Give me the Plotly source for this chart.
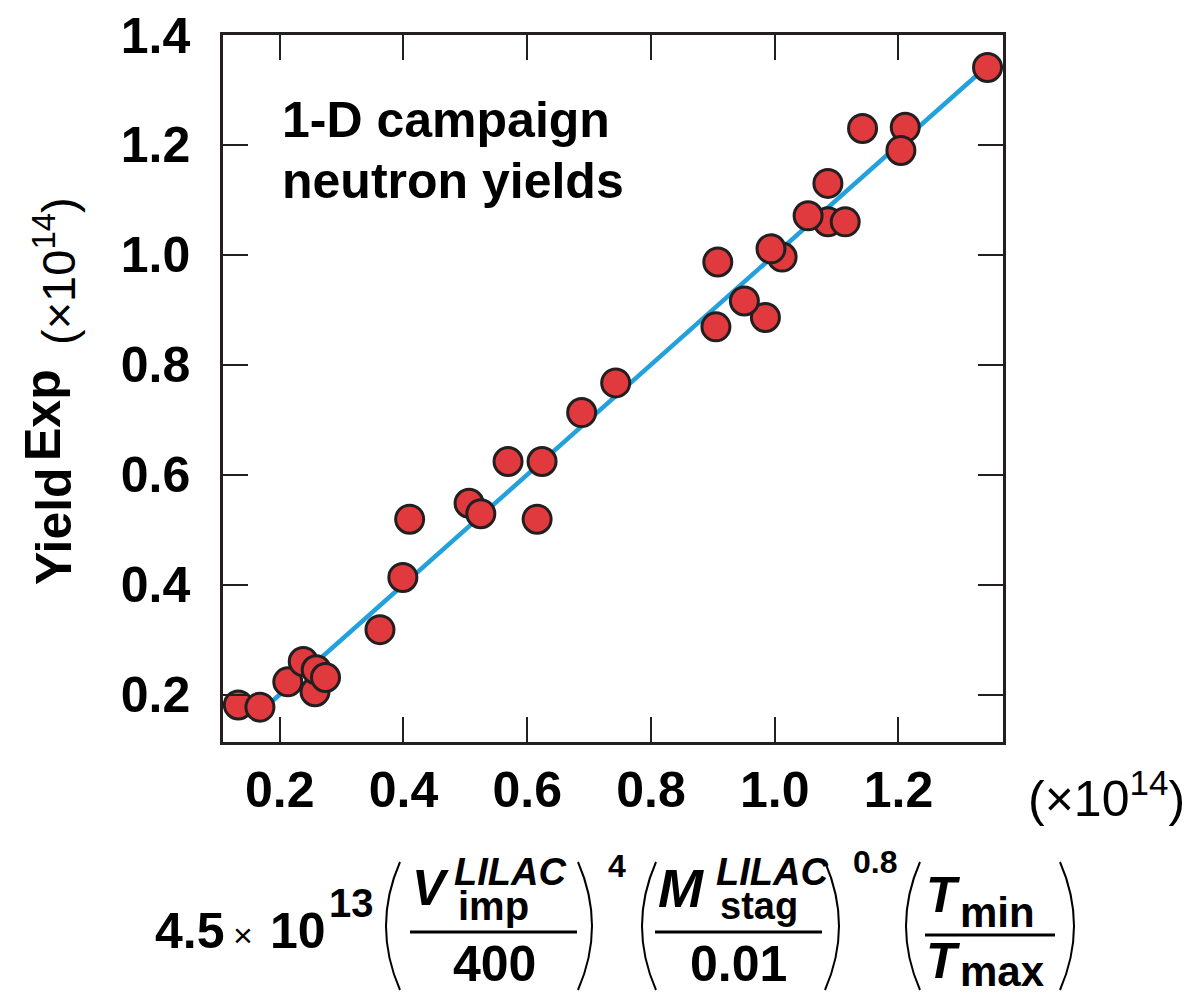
import plotly.graph_objects as go

# Measured neutron yields (units of 1e14) versus the 1-D scaling prediction
pred_yield = [0.133, 0.168, 0.213, 0.257, 0.238, 0.259, 0.274, 0.362, 0.399, 0.410,
              0.506, 0.525, 0.569, 0.616, 0.624, 0.688, 0.743, 0.908, 0.905, 0.985,
              0.951, 1.012, 0.994, 1.086, 1.054, 1.114, 1.086, 1.142, 1.211, 1.204,
              1.344]
exp_yield = [0.181, 0.177, 0.223, 0.205, 0.260, 0.245, 0.231, 0.318, 0.413, 0.519,
             0.548, 0.529, 0.624, 0.519, 0.624, 0.713, 0.767, 0.987, 0.869, 0.886,
             0.916, 0.996, 1.011, 1.060, 1.071, 1.060, 1.130, 1.230, 1.232, 1.190,
             1.341]

# Unity fit line
fit_x = [0.17, 1.344]
fit_y = [0.17, 1.344]

x_ticks = [0.2, 0.4, 0.6, 0.8, 1.0, 1.2]
y_ticks = [0.2, 0.4, 0.6, 0.8, 1.0, 1.2, 1.4]

FONT = "Liberation Sans, Arial, Helvetica, sans-serif"
INK = "#231f20"

W, H = 1196, 996
L, R, T, B = 223, 1003, 35, 742


def fx(px):
    return (px - L) / (R - L)


def fy(py):
    return (B - py) / (B - T)


fig = go.Figure()
fig.add_trace(go.Scatter(x=fit_x, y=fit_y, mode="lines",
                         line=dict(color="#22a1dc", width=4.5),
                         hoverinfo="skip", showlegend=False))
fig.add_trace(go.Scatter(x=pred_yield, y=exp_yield, mode="markers",
                         marker=dict(size=28, color="#e0393e",
                                     line=dict(color=INK, width=3)),
                         showlegend=False))

axis_common = dict(showline=True, linecolor=INK, linewidth=2.5, mirror="ticks",
                   ticks="inside", ticklen=25, tickwidth=2, tickcolor=INK,
                   showgrid=False, zeroline=False, automargin=False,
                   tickfont=dict(family=FONT, size=50, color="black", weight="bold"))

fig.update_xaxes(range=[0.1083, 1.369], tickvals=x_ticks,
                 ticktext=[f"{v:.1f}" for v in x_ticks],
                 ticklabelstandoff=2, **axis_common)
fig.update_yaxes(range=[0.1136, 1.4], tickvals=y_ticks,
                 ticktext=[f"{v:.1f}" for v in y_ticks],
                 ticklabelstandoff=20, **axis_common)

ann = []
shapes = []


def text(s, px, py, size, xanchor="left", yanchor="middle", angle=0):
    ann.append(dict(text=s, x=fx(px), y=fy(py), xref="paper", yref="paper",
                    xanchor=xanchor, yanchor=yanchor, showarrow=False,
                    textangle=angle,
                    font=dict(family=FONT, size=size, color="black")))


def paren(x_end, x_mid, y_top, y_bot):
    ctrl = 2 * x_mid - x_end
    path = (f"M {fx(x_end)},{fy(y_top)} Q {fx(ctrl)},{fy((y_top + y_bot) / 2)} "
            f"{fx(x_end)},{fy(y_bot)}")
    shapes.append(dict(type="path", path=path, xref="paper", yref="paper",
                       line=dict(color="black", width=2)))


def bar(x0, x1, y):
    shapes.append(dict(type="line", x0=fx(x0), x1=fx(x1), y0=fy(y), y1=fy(y),
                       xref="paper", yref="paper",
                       line=dict(color="black", width=3)))


# Panel label
text("<b>1-D campaign</b>", 280, 120, 50)
text("<b>neutron yields</b>", 280, 181, 50)

# Y-axis title (rotated, "Exp" sits slightly raised)
text("<b>Yield</b>", 54, 526, 50, xanchor="center", angle=-90)
text("<b>Exp</b>", 43, 415, 50, xanchor="center", angle=-90)
text("(×10<sup>14</sup>)", 55, 271, 47, xanchor="center", angle=-90)

# X-axis multiplier
text("(×10<sup>14</sup>)", 1106, 795, 50, xanchor="center")

# X-axis scaling expression
text("<b>4.5</b>", 153, 931, 50)
text("×", 243, 935, 34, xanchor="center")
text("<b>10</b>", 268, 931, 50)
text("<b>13</b>", 327, 903, 40)

paren(400, 386, 862, 990)
text("<b><i>V</i></b>", 410, 888, 50)
text("<b><i>LILAC</i></b>", 452, 872, 38)
text("<b>imp</b>", 456, 906, 40)
bar(410, 577, 932)
text("<b>400</b>", 494, 964, 50, xanchor="center")
paren(578, 592, 862, 990)
text("<b>4</b>", 606, 866, 32)

paren(656, 642, 862, 990)
text("<b><i>M</i></b>", 656, 888, 54)
text("<b><i>LILAC</i></b>", 714, 872, 38)
text("<b>stag</b>", 718, 906, 38)
bar(655, 822, 932)
text("<b>0.01</b>", 738, 964, 50, xanchor="center")
paren(825, 839, 862, 990)
text("<b>0.8</b>", 851, 862, 32)

paren(920, 906, 862, 990)
text("<b><i>T</i></b>", 924, 895, 50)
text("<b>min</b>", 958, 912, 42)
bar(925, 1055, 935)
text("<b><i>T</i></b>", 924, 961, 50)
text("<b>max</b>", 958, 972, 42)
paren(1060, 1074, 862, 990)

fig.update_layout(width=W, height=H, margin=dict(l=L, r=W - R, t=T, b=H - B),
                  paper_bgcolor="white", plot_bgcolor="white",
                  annotations=ann, shapes=shapes,
                  font=dict(family=FONT, color="black"))

fig.write_html("out.html")
